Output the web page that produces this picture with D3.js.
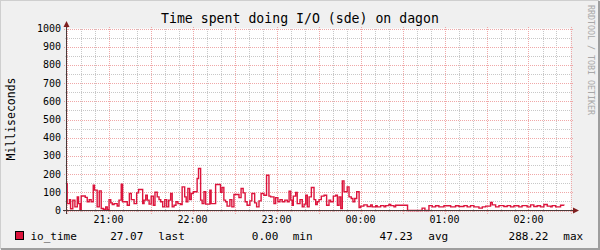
<!DOCTYPE html>
<html><head><meta charset="utf-8">
<script src="https://cdn.jsdelivr.net/npm/d3@7"></script>
<style>html,body{margin:0;padding:0;background:#F0F0F0;}svg{display:block;}</style>
</head><body>
<script>
// minutes after 20:30
const times = [0,0.5,2.1,2.9,4.5,6,7.7,8.6,9.6,10.5,13.4,14.8,16.2,17.6,19.1,20,21.9,23.4,24.8,26.3,28,29.1,30.4,31.6,32.7,34,36.2,37.5,39.1,40.1,43.4,44.9,46.3,48.3,50.1,51.5,54.4,55.4,56.6,57.7,59,60.5,62,63.2,64.8,66.1,67.3,68.7,70.2,71.6,73,74.4,75.5,76.8,78.2,79.6,81.5,82.6,84.4,85.5,86.7,88,89.1,90.6,93.3,94.3,95.8,96.9,98.2,99.4,102.4,103.3,106.5,110,111.1,112.4,113.6,114.7,116.7,118.1,119.6,123.2,124.7,126.2,127.6,129,131,132.4,134.4,135.8,137.5,139,141,142.9,144.6,145.8,148.2,149.4,151,152.5,154.1,155.9,157.7,159,160.2,161.2,162,163.7,164.8,166.8,168.4,169.7,170.9,172,173.3,174.9,176.8,178,179.1,180.4,182,184,185.8,187.5,188.7,190.6,192.3,193.5,194.7,195.9,197,198.2,200.5,201.8,203.4,204.6,205.9,207.3,209,210.1,212.4,214.8,217.3,218.4,220.9,221.9,224.4,226.8,228,230.3,231.6,233.9,235.1,243.6,254,256,258.9,261.2,263.6,266,269.6,274.4,277.9,280.3,283.9,286.2,288.6,291,294.6,297,299.4,302.9,304.1,306.5,308.9,312.4,314.8,317.2,319.6,323.1,325.4,329,331.5,333.8,336.2,338.6,341,343.4,345.8,346.9,349.4,352.9,355.3];
const values = [148,38,60,10,57,20,75,38,3,80,72,48,60,48,139,112,20,108,11,7,20,5,60,42,33,38,25,57,145,48,29,93,60,38,97,115,38,57,84,57,35,79,29,100,75,60,48,20,60,20,57,93,20,29,48,38,33,130,75,48,121,60,93,103,176,231,57,38,103,35,112,38,143,100,126,57,48,24,60,20,88,71,121,97,48,29,53,93,42,20,53,93,84,194,79,75,38,71,48,60,48,57,48,106,57,29,79,99,38,60,20,35,84,20,75,126,60,33,48,60,79,84,29,57,48,79,84,29,75,11,163,103,130,75,66,48,66,103,16,24,31,22,31,20,27,20,27,20,27,33,27,20,29,0,13,0,27,20,26,20,26,20,26,22,27,20,27,20,13,20,24,44,31,20,27,22,27,20,26,20,27,20,31,22,26,20,33,24,20,27,20,29,27];
const yTicks = [0,100,200,300,400,500,600,700,800,900,1000];
const title = "Time spent doing I/O (sde) on dagon";
const yTitle = "Milliseconds";
const seriesName = "io_time";
const legendValues = ["27.07","0.00","47.23","288.22"];
const legendUnits = ["last","min","avg","max"];
const watermark = "RRDTOOL / TOBI OETIKER";

const W=600,H=250;
const font="'DejaVu Sans Mono', monospace";
const start = new Date(2000,0,1,20,30);
const toDate = m => new Date(start.getTime()+m*60000);
const x = d3.scaleTime().domain([start,new Date(2000,0,2,2,30)]).range([66.5,570.5]);
const y = d3.scaleLinear().domain([0,1000]).range([210.5,28.5]);

const svg = d3.select("body").append("svg").attr("width",W).attr("height",H);
svg.append("rect").attr("width",W).attr("height",H).attr("fill","#F0F0F0");
// 3D border
svg.append("path").attr("d","M0,249 L0,0 L599,0").attr("fill","none").attr("stroke","#CFCFCF").attr("stroke-width",2);
svg.append("path").attr("d","M1,249 L599,249 L599,1").attr("fill","none").attr("stroke","#9E9E9E").attr("stroke-width",2);

const [x0,x1]=x.range(), [yb,yt]=y.range();
svg.append("rect").attr("x",x0).attr("y",yt).attr("width",x1-x0).attr("height",yb-yt).attr("fill","#FFFFFF");

const g = svg.append("g").attr("shape-rendering","crispEdges");
const minorC="#C8C8C8", majorC="#F0A8A8";
// minor horizontal grid
for(let v=50; v<=1000; v+=100){
  g.append("line").attr("x1",x0-2).attr("x2",x1+2).attr("y1",Math.round(y(v))+0.5).attr("y2",Math.round(y(v))+0.5)
   .attr("stroke",minorC).attr("stroke-dasharray","1,1");
}
// minor vertical grid
x.ticks(d3.timeMinute.every(10)).forEach(t=>{
  if(t.getMinutes()%30===0) return;
  const px=Math.round(x(t))+0.5;
  g.append("line").attr("x1",px).attr("x2",px).attr("y1",yt).attr("y2",yb+2).attr("stroke",minorC).attr("stroke-dasharray","1,1");
});
// major horizontal
yTicks.forEach(v=>{
  const py=Math.round(y(v))+0.5;
  g.append("line").attr("x1",x0-3).attr("x2",x1+3).attr("y1",py).attr("y2",py).attr("stroke",majorC).attr("stroke-dasharray","1,1");
});
// major vertical
x.ticks(d3.timeMinute.every(30)).forEach(t=>{
  const px=Math.round(x(t))+0.5;
  g.append("line").attr("x1",px).attr("x2",px).attr("y1",yt-2).attr("y2",yb+3).attr("stroke",majorC).attr("stroke-dasharray","1,1");
});

// y labels
svg.append("g").selectAll("text").data(yTicks).join("text")
  .attr("x",61).attr("y",d=>y(d)+3.5).attr("text-anchor","end")
  .attr("font-family",font).attr("font-size","10px").attr("fill","#000").text(d=>d);
// x labels
const fmt=d3.timeFormat("%H:%M");
svg.append("g").selectAll("text").data(x.ticks(d3.timeHour.every(1))).join("text")
  .attr("x",d=>x(d)).attr("y",223).attr("text-anchor","middle")
  .attr("font-family",font).attr("font-size","10px").attr("fill","#000").text(d=>fmt(d));

// data line
const data = times.map((t,i)=>({t:toDate(t),v:values[i]}));
svg.append("path").datum(data).attr("fill","none").attr("stroke","#DC143C").attr("stroke-width",1.4)
  .attr("d",d3.line().x(d=>x(d.t)).y(d=>y(d.v)).curve(d3.curveStepAfter));

// axes
const ax = svg.append("g").attr("shape-rendering","crispEdges");
ax.append("line").attr("x1",63).attr("x2",574).attr("y1",yb).attr("y2",yb).attr("stroke","#4A3A3A");
ax.append("line").attr("x1",x0).attr("x2",x0).attr("y1",yb+3).attr("y2",24).attr("stroke","#4A3A3A");
svg.append("path").attr("d",`M${x0-3},${27} L${x0+3},${27} L${x0},${21} Z`).attr("fill","#7F1F1F");
svg.append("path").attr("d",`M${573},${yb-3} L${573},${yb+3} L${579},${yb} Z`).attr("fill","#7F1F1F");

// title
svg.append("text").attr("x",300).attr("y",22.5).attr("text-anchor","middle")
  .attr("font-family",font).attr("font-size","13.2px").attr("fill","#000").text(title);
// y title
svg.append("text").attr("transform","translate(14.5,119) rotate(-90)").attr("text-anchor","middle")
  .attr("font-family",font).attr("font-size","11.5px").attr("fill","#000").text(yTitle);
// watermark
svg.append("text").attr("transform","translate(588,5) rotate(90)").attr("text-anchor","start")
  .attr("font-family",font).attr("font-size","8.3px").attr("fill","#A8A8A8").text(watermark);

// legend
svg.append("rect").attr("x",15.5).attr("y",231.5).attr("width",8).attr("height",8)
  .attr("fill","#DC143C").attr("stroke","#000").attr("shape-rendering","crispEdges");
svg.append("text").attr("x",30.5).attr("y",239.5).attr("font-family",font).attr("font-size","11px").text(seriesName);
const valEnds=[143.3,278.3,412.7,548.3], unitStarts=[158.3,292.7,428.3,563.3];
legendValues.forEach((v,i)=>{
  svg.append("text").attr("x",valEnds[i]).attr("y",239.5).attr("text-anchor","end").attr("font-family",font).attr("font-size","11px").text(v);
  svg.append("text").attr("x",unitStarts[i]).attr("y",239.5).attr("font-family",font).attr("font-size","11px").text(legendUnits[i]);
});
</script>
</body></html>
